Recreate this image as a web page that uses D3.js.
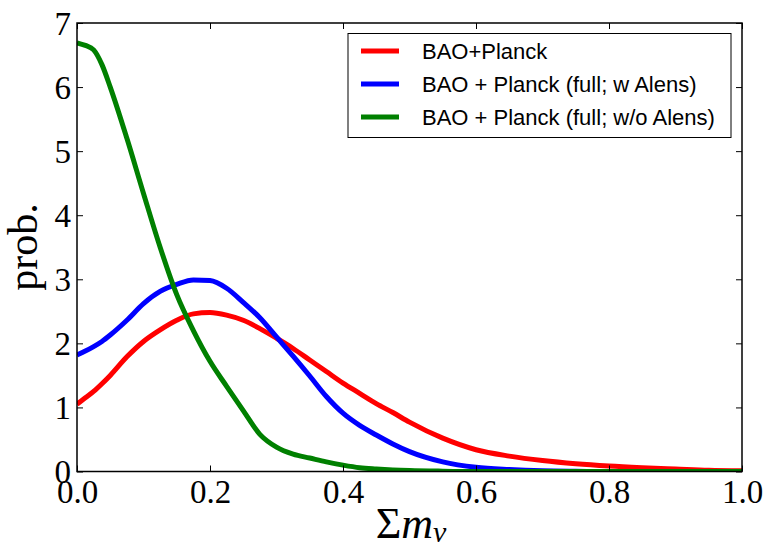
<!DOCTYPE html>
<html>
<head>
<meta charset="utf-8">
<script src="https://cdn.jsdelivr.net/npm/d3@7"></script>
<style>
  body { margin: 0; background: white; }
  svg { display: block; }
</style>
</head>
<body>
<svg width="764" height="549"></svg>
<script>
// sum of neutrino masses grid
var mnu = [0, 0.0125, 0.025, 0.0375, 0.05, 0.075, 0.1, 0.125, 0.15, 0.175, 0.2, 0.225, 0.25, 0.275, 0.3,
           0.325, 0.35, 0.375, 0.4, 0.425, 0.45, 0.475, 0.5, 0.55, 0.6, 0.65, 0.7, 0.75,
           0.8, 0.85, 0.9, 0.95, 1.0];

var probBaoPlanck = [1.05, 1.15, 1.25, 1.37, 1.5, 1.79, 2.03, 2.21, 2.36, 2.46, 2.48, 2.44, 2.36, 2.23, 2.08,
                     1.92, 1.74, 1.56, 1.38, 1.22, 1.06, 0.92, 0.77, 0.52, 0.34, 0.24, 0.17, 0.12,
                     0.085, 0.06, 0.04, 0.02, 0.01];

var probFullAlens = [1.82, 1.88, 1.95, 2.03, 2.13, 2.36, 2.62, 2.81, 2.92, 2.99, 2.98, 2.86, 2.64, 2.4, 2.1,
                     1.8, 1.49, 1.17, 0.91, 0.72, 0.57, 0.43, 0.31, 0.15, 0.065, 0.03, 0.01, 0.003,
                     0, 0, 0, 0, 0];

var probFullNoAlens = [6.69, 6.65, 6.58, 6.35, 6.0, 5.2, 4.34, 3.5, 2.76, 2.2, 1.72, 1.33, 0.95, 0.58, 0.38,
                       0.27, 0.21, 0.15, 0.1, 0.06, 0.04, 0.025, 0.015, 0.005, 0, 0, 0, 0,
                       0, 0, 0, 0, 0];

var seriesNames = ["BAO+Planck", "BAO + Planck (full; w Alens)", "BAO + Planck (full; w/o Alens)"];
var seriesColors = ["#ff0000", "#0000ff", "#008000"];

var xTicks = [0.0, 0.2, 0.4, 0.6, 0.8, 1.0];
var yTicks = [0, 1, 2, 3, 4, 5, 6, 7];

var svg = d3.select("svg");
var plotLeft = 77, plotRight = 742, plotTop = 23, plotBottom = 471.5;

var xScale = d3.scaleLinear().domain([0, 1]).range([plotLeft, plotRight]);
var yScale = d3.scaleLinear().domain([0, 7]).range([plotBottom, plotTop]);

var serif = "'Liberation Serif', 'DejaVu Serif', serif";

// curves
var allSeries = [probBaoPlanck, probFullAlens, probFullNoAlens];
var line = d3.line()
    .x(d => xScale(d[0]))
    .y(d => yScale(d[1]))
    .curve(d3.curveMonotoneX);

svg.append("defs").append("clipPath").attr("id", "plotClip")
    .append("rect")
    .attr("x", plotLeft).attr("y", plotTop)
    .attr("width", plotRight - plotLeft).attr("height", plotBottom - plotTop);

allSeries.forEach(function(vals, i) {
    svg.append("path")
        .attr("d", line(mnu.map((m, j) => [m, vals[j]])))
        .attr("fill", "none")
        .attr("stroke", seriesColors[i])
        .attr("stroke-width", 5)
        .attr("clip-path", "url(#plotClip)");
});

// axes (ticks point inward, on all four sides)
var xAxisBottom = d3.axisBottom(xScale).tickValues(xTicks).tickSizeInner(-6).tickSizeOuter(0)
    .tickFormat(d3.format(".1f"));
var xAxisTop = d3.axisTop(xScale).tickValues(xTicks).tickSizeInner(-6).tickSizeOuter(0)
    .tickFormat("");
var yAxisLeft = d3.axisLeft(yScale).tickValues(yTicks).tickSizeInner(-6).tickSizeOuter(0)
    .tickFormat(d3.format("d"));
var yAxisRight = d3.axisRight(yScale).tickValues(yTicks).tickSizeInner(-6).tickSizeOuter(0)
    .tickFormat("");

var gx = svg.append("g").attr("transform", `translate(0,${plotBottom})`).call(xAxisBottom);
gx.selectAll("text").attr("dy", null).attr("y", 31)
    .style("font-family", serif).style("font-size", "33px").attr("fill", "#000");
svg.append("g").attr("transform", `translate(0,${plotTop})`).call(xAxisTop);

var gy = svg.append("g").attr("transform", `translate(${plotLeft},0)`).call(yAxisLeft);
gy.selectAll("text").attr("x", -6).attr("dy", "0.34em")
    .style("font-family", serif).style("font-size", "33px").attr("fill", "#000");
svg.append("g").attr("transform", `translate(${plotRight},0)`).call(yAxisRight);

svg.selectAll(".domain").remove();
svg.selectAll(".tick line").attr("stroke", "#000").attr("stroke-width", 1);

// frame
svg.append("rect")
    .attr("x", plotLeft).attr("y", plotTop)
    .attr("width", plotRight - plotLeft).attr("height", plotBottom - plotTop)
    .attr("fill", "none").attr("stroke", "#000").attr("stroke-width", 1.5);

// axis labels
svg.append("text")
    .attr("transform", `translate(37,247) rotate(-90)`)
    .attr("text-anchor", "middle")
    .style("font-family", serif).style("font-size", "42px")
    .text("prob.");

var xl = svg.append("text")
    .attr("x", 411).attr("y", 538)
    .attr("text-anchor", "middle")
    .style("font-family", serif).style("font-size", "44px");
xl.append("tspan").text("Σ");
xl.append("tspan").style("font-style", "italic").text("m");
xl.append("tspan").style("font-style", "italic").style("font-size", "30px").attr("dy", 4).text("ν");

// legend
var legend = svg.append("g");
legend.append("rect")
    .attr("x", 348).attr("y", 33.5).attr("width", 383).attr("height", 104)
    .attr("fill", "#fff").attr("stroke", "#000").attr("stroke-width", 1);

seriesNames.forEach(function(name, i) {
    var yy = 51 + i * 33;
    legend.append("line")
        .attr("x1", 361).attr("x2", 399).attr("y1", yy).attr("y2", yy)
        .attr("stroke", seriesColors[i]).attr("stroke-width", 5);
    legend.append("text")
        .attr("x", 422).attr("y", yy).attr("dy", "0.36em")
        .style("font-family", "'Liberation Sans', Arial, sans-serif")
        .style("font-size", "22px")
        .text(name);
});
</script>
</body>
</html>
